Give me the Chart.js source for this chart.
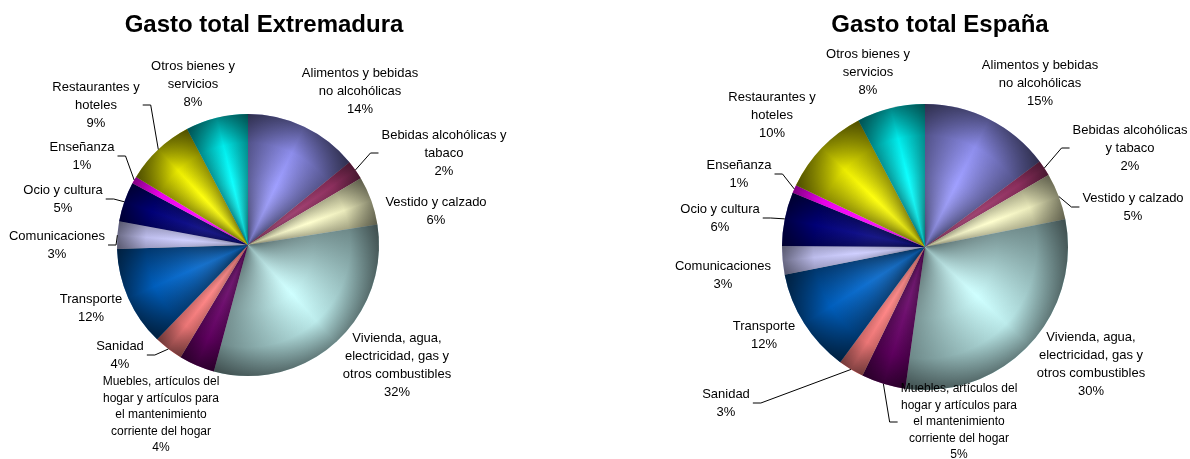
<!DOCTYPE html>
<html lang="es">
<head>
<meta charset="utf-8">
<title>Gasto total Extremadura / España</title>
<script src="https://cdn.jsdelivr.net/npm/chart.js@4.4.1/dist/chart.umd.min.js"></script>
<style>
  html, body { margin: 0; padding: 0; background: #fff; }
  #wrap { position: relative; width: 1190px; height: 459px; }
  canvas { position: absolute; top: 0; }
  #chartExt { left: 0; }
  #chartEsp { left: 595px; }
</style>
</head>
<body>
<div id="wrap">
  <canvas id="chartExt" width="595" height="459"></canvas>
  <canvas id="chartEsp" width="595" height="459"></canvas>
</div>
<script>
const categories = [
  "Alimentos y bebidas no alcohólicas",
  "Bebidas alcohólicas y tabaco",
  "Vestido y calzado",
  "Vivienda, agua, electricidad, gas y otros combustibles",
  "Muebles, artículos del hogar y artículos para el mantenimiento corriente del hogar",
  "Sanidad",
  "Transporte",
  "Comunicaciones",
  "Ocio y cultura",
  "Enseñanza",
  "Restaurantes y hoteles",
  "Otros bienes y servicios"
];

// wrapped label text, as it appears in each chart
const linesExt = [
  ["Alimentos y bebidas", "no alcohólicas"],
  ["Bebidas alcohólicas y", "tabaco"],
  ["Vestido y calzado"],
  ["Vivienda, agua,", "electricidad, gas y", "otros combustibles"],
  ["Muebles, artículos del", "hogar y artículos para", "el mantenimiento", "corriente del hogar"],
  ["Sanidad"],
  ["Transporte"],
  ["Comunicaciones"],
  ["Ocio y cultura"],
  ["Enseñanza"],
  ["Restaurantes y", "hoteles"],
  ["Otros bienes y", "servicios"]
];
const linesEsp = [
  ["Alimentos y bebidas", "no alcohólicas"],
  ["Bebidas alcohólicas", "y tabaco"],
  ["Vestido y calzado"],
  ["Vivienda, agua,", "electricidad, gas y", "otros combustibles"],
  ["Muebles, artículos del", "hogar y artículos para", "el mantenimiento", "corriente del hogar"],
  ["Sanidad"],
  ["Transporte"],
  ["Comunicaciones"],
  ["Ocio y cultura"],
  ["Enseñanza"],
  ["Restaurantes y", "hoteles"],
  ["Otros bienes y", "servicios"]
];

// shares of total spending (%)
const valuesExt = [14.1, 2.4, 6.0, 31.7, 4.4, 3.6, 12.3, 3.4, 4.9, 0.9, 8.6, 7.7];
const valuesEsp = [14.8, 1.8, 5.3, 30.3, 5.0, 2.9, 11.8, 3.2, 6.1, 0.9, 10.2, 7.7];

const sliceColors = [
  "#9999FF", "#993366", "#FFFFCC", "#CCFFFF", "#660066", "#FF8080",
  "#0066CC", "#CCCCFF", "#000080", "#FF00FF", "#FFFF00", "#00FFFF"
];

// label placement relative to the pie centre (px); leader = side of the label the line leaves from
const layoutExt = [
  { dx: 112, dy: -154 },
  { dx: 196, dy: -92, leader: "left" },
  { dx: 188, dy: -34 },
  { dx: 149, dy: 120 },
  { dx: -87, dy: 170, small: true },
  { dx: -128, dy: 110, leader: "right" },
  { dx: -157, dy: 63 },
  { dx: -191, dy: 0, leader: "right" },
  { dx: -185, dy: -46, leader: "right" },
  { dx: -166, dy: -89, leader: "right" },
  { dx: -152, dy: -140, leader: "right" },
  { dx: -55, dy: -161 }
];
const layoutEsp = [
  { dx: 115, dy: -164 },
  { dx: 205, dy: -99, leader: "left" },
  { dx: 208, dy: -40, leader: "left" },
  { dx: 166, dy: 117 },
  { dx: 34, dy: 175, leader: "left", small: true },
  { dx: -199, dy: 156, leader: "right" },
  { dx: -161, dy: 88 },
  { dx: -202, dy: 28 },
  { dx: -205, dy: -29, leader: "right" },
  { dx: -186, dy: -73, leader: "right" },
  { dx: -153, dy: -132 },
  { dx: -57, dy: -175 }
];

const FONT = '"Liberation Sans", Arial, sans-serif';

// Excel-like "pillow" shading: dark rim, dark centre and dark slice edges
function shadeArc(ctx, arc) {
  const p = arc.getProps(["x", "y", "startAngle", "endAngle", "outerRadius"], true);
  const r = p.outerRadius;
  ctx.save();
  ctx.beginPath();
  ctx.moveTo(p.x, p.y);
  ctx.arc(p.x, p.y, r, p.startAngle, p.endAngle);
  ctx.closePath();
  ctx.clip();

  const rg = ctx.createRadialGradient(p.x, p.y, 0, p.x, p.y, r);
  rg.addColorStop(0, "rgba(0,0,0,0.30)");
  rg.addColorStop(0.5, "rgba(255,255,255,0.06)");
  rg.addColorStop(0.78, "rgba(0,0,0,0.08)");
  rg.addColorStop(1, "rgba(0,0,0,0.48)");
  ctx.fillStyle = rg;
  ctx.fillRect(p.x - r, p.y - r, 2 * r, 2 * r);

  const frac = (p.endAngle - p.startAngle) / (2 * Math.PI);
  const a = 0.42 * Math.min(1, frac / 0.08);
  const cg = ctx.createConicGradient(p.startAngle, p.x, p.y);
  cg.addColorStop(0, `rgba(0,0,0,${a})`);
  cg.addColorStop(frac / 2, "rgba(0,0,0,0)");
  cg.addColorStop(frac, `rgba(0,0,0,${a})`);
  ctx.fillStyle = cg;
  ctx.fillRect(p.x - r, p.y - r, 2 * r, 2 * r);
  ctx.restore();
}

const pieDecor = {
  id: "pieDecor",
  afterDatasetsDraw(chart) {
    chart.getDatasetMeta(0).data.forEach((arc) => shadeArc(chart.ctx, arc));
  },
  afterDraw(chart, args, opts) {
    const ctx = chart.ctx;
    const ds = chart.data.datasets[0];
    const total = ds.data.reduce((s, v) => s + v, 0);
    const meta = chart.getDatasetMeta(0);

    ctx.save();
    ctx.fillStyle = "#000";
    ctx.strokeStyle = "#000";
    ctx.lineWidth = 1;
    ctx.textAlign = "center";
    ctx.textBaseline = "middle";

    const c = meta.data[0].getProps(["x", "y"], true);
    ctx.font = `bold 24px ${FONT}`;
    ctx.fillText(opts.title, c.x + opts.titleDx, 25);

    meta.data.forEach((arc, i) => {
      const p = arc.getProps(["x", "y", "startAngle", "endAngle", "outerRadius"], true);
      const spot = opts.layout[i];
      const size = spot.small ? 12 : 13;
      const lh = spot.small ? 16.5 : 18;
      ctx.font = `${size}px ${FONT}`;
      const text = opts.lines[i].concat(Math.round((ds.data[i] / total) * 100) + "%");
      const cx = p.x + spot.dx;
      const cy = p.y + spot.dy;

      if (spot.leader) {
        const w = Math.max(...text.map((t) => ctx.measureText(t).width));
        const side = spot.leader === "left" ? -1 : 1;
        const ax = cx + side * (w / 2 + 3);
        const bx = ax + side * 8;
        const mid = (p.startAngle + p.endAngle) / 2;
        ctx.beginPath();
        ctx.moveTo(ax, cy);
        ctx.lineTo(bx, cy);
        ctx.lineTo(p.x + Math.cos(mid) * p.outerRadius, p.y + Math.sin(mid) * p.outerRadius);
        ctx.stroke();
      }
      text.forEach((t, k) => ctx.fillText(t, cx, cy + (k - (text.length - 1) / 2) * lh));
    });
    ctx.restore();
  }
};

function makePie(id, values, lines, layout, title, titleDx, pad) {
  return new Chart(document.getElementById(id), {
    type: "pie",
    data: {
      labels: categories,
      datasets: [{ data: values, backgroundColor: sliceColors, borderWidth: 0 }]
    },
    options: {
      responsive: false,
      animation: false,
      events: [],
      layout: { padding: pad },
      plugins: {
        legend: { display: false },
        tooltip: { enabled: false },
        title: { display: false },
        pieDecor: { title, titleDx, lines, layout }
      }
    },
    plugins: [pieDecor]
  });
}

makePie("chartExt", valuesExt, linesExt, layoutExt, "Gasto total Extremadura", 16,
  { left: 117, right: 216, top: 114, bottom: 83 });
makePie("chartEsp", valuesEsp, linesEsp, layoutEsp, "Gasto total España", 15,
  { left: 187, right: 122, top: 104, bottom: 69 });
</script>
</body>
</html>
